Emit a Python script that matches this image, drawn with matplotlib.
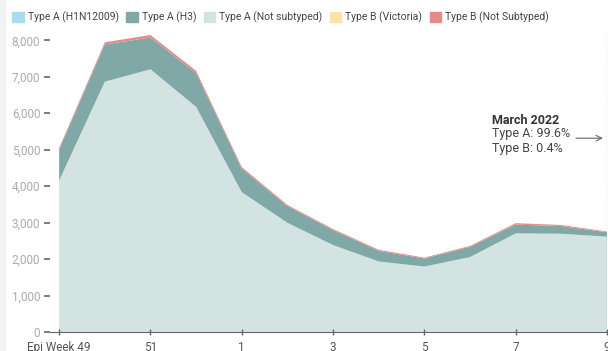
import matplotlib.pyplot as plt
from matplotlib.patches import Patch, Rectangle

plt.rcParams['font.family'] = ['Roboto', 'DejaVu Sans']

weeks = ['49', '50', '51', '52', '1', '2', '3', '4', '5', '6', '7', '8', '9']
tick_labels = ['Epi Week 49', '', '51', '', '1', '', '3', '', '5', '', '7', '', '9']

a_not_subtyped = [4150, 6860, 7200, 6170, 3830, 2990, 2380, 1930, 1790, 2050, 2700, 2690, 2610]
a_h1n1 = [5, 5, 5, 5, 5, 5, 5, 5, 5, 5, 5, 5, 5]
a_h3 = [850, 1020, 870, 930, 650, 460, 410, 290, 220, 280, 240, 210, 120]
b_victoria = [0, 0, 0, 0, 0, 0, 0, 0, 0, 0, 0, 0, 0]
b_not_subtyped = [40, 60, 70, 60, 40, 30, 30, 30, 25, 25, 40, 30, 20]

labels = ['Type A (H1N12009)', 'Type A (H3)', 'Type A (Not subtyped)', 'Type B (Victoria)', 'Type B (Not Subtyped)']
colors = {'h1n1': '#a8dcef', 'h3': '#7fa8a6', 'ns': '#d2e3e2', 'vic': '#fde3a7', 'bns': '#e58b88'}

fig = plt.figure(figsize=(6.08, 3.51), dpi=100)
fig.patches.append(Rectangle((0, 0), 5 / 608, 1, transform=fig.transFigure, color='#f2f2f2', zorder=0))
ax = fig.add_axes([50 / 608, 19 / 351, 557 / 608, 299 / 351])

x = list(range(len(weeks)))
ax.stackplot(x, a_not_subtyped, a_h1n1, a_h3, b_victoria, b_not_subtyped,
             colors=[colors['ns'], colors['h1n1'], colors['h3'], colors['vic'], colors['bns']],
             linewidth=0)

ax.set_xlim(-0.2, 12)
ax.set_ylim(0, 8200)
ax.set_yticks(range(0, 8001, 1000))
ax.set_yticklabels([f'{v:,}' for v in range(0, 8001, 1000)])
ax.set_xticks(x[::2])
ax.set_xticklabels(tick_labels[::2])

for s in ['top', 'right', 'left']:
    ax.spines[s].set_visible(False)
ax.spines['bottom'].set_color('#666666')
ax.tick_params(axis='y', length=4, width=1.2, color='#666666', labelcolor='#aaaaaa', labelsize=8.5, pad=3)
ax.tick_params(axis='x', length=5, width=1, color='#666666', labelcolor='#555555', labelsize=8.5,
               direction='inout', pad=4)

ax.axvline(12, color='#7fa8a6', linestyle=':', linewidth=1)

ax.text(9.48, 5810, 'March 2022', fontsize=9, fontweight='bold', color='#333333', va='center')
ax.text(9.48, 5450, 'Type A: 99.6%', fontsize=9, color='#444444', va='center')
ax.text(9.48, 5040, 'Type B: 0.4%', fontsize=9, color='#444444', va='center')
ax.annotate('', xy=(11.97, 5315), xytext=(11.26, 5315),
            arrowprops=dict(arrowstyle='->', color='#666666', lw=0.8))

handles = [Patch(color=colors[k]) for k in ['h1n1', 'h3', 'ns', 'vic', 'bns']]
fig.legend(handles, labels, loc='upper left', bbox_to_anchor=(0.005, 0.995), ncol=5, frameon=False,
           fontsize=7.5, handlelength=1.1, handleheight=1.1, handletextpad=0.4, columnspacing=0.7,
           labelcolor='#444444')

fig.savefig('out.png', dpi=100)
